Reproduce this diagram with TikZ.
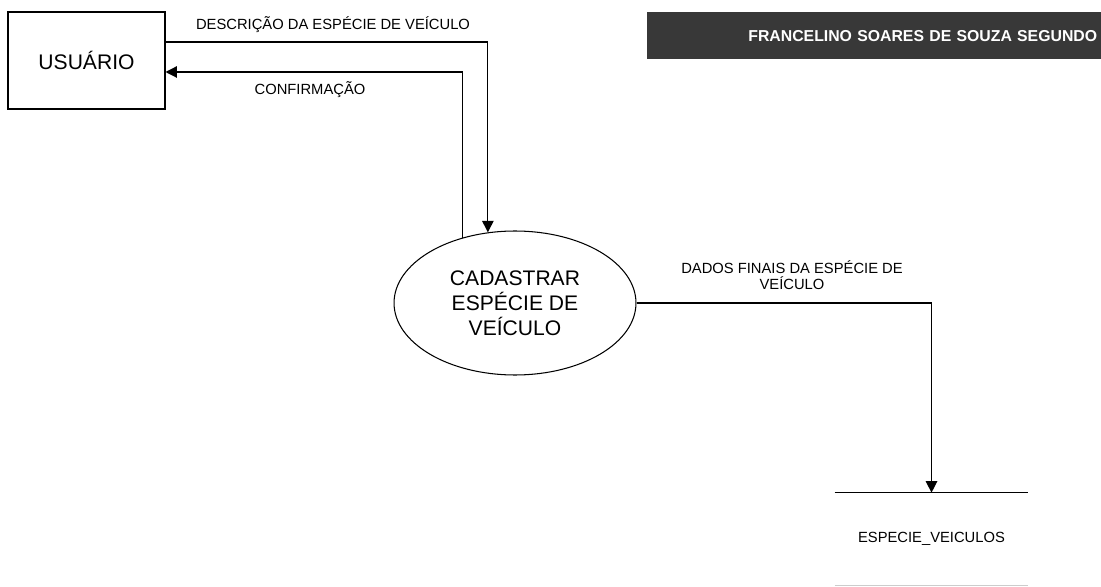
\documentclass[tikz,border=0pt]{standalone}
\usepackage{fontspec}
\setmainfont{Liberation Sans}
\usetikzlibrary{arrows.meta, shapes.geometric}

\tikzset{
	small/.style={font=\fontsize{8.4}{9}\selectfont, inner sep=1pt},
	entidade/.style={draw, line width=0.6pt, minimum width=3.14cm, minimum height=1.94cm, font=\fontsize{12}{14}\selectfont},
	processo/.style={draw, ellipse, line width=0.6pt, inner sep=0pt, minimum width=4.84cm, minimum height=2.88cm, align=center, font=\fontsize{12}{14.2}\selectfont},
	fluxo/.style={->, line width=0.7pt},
}

\begin{document}
\begin{tikzpicture}[x=0.02cm, y=-0.02cm, >={Triangle[length=6.5pt, width=6.5pt]}]
			\useasboundingbox (0,0) rectangle (1101,587);
			
			% -- Autor --
			\node[anchor=north east, fill=black!78, text=white, font=\bfseries\fontsize{9}{10}\selectfont,
				minimum height=0.94cm, inner xsep=0.07cm, text width=8.94cm, align=right] (autor) at (1101,12) {FRANCELINO SOARES DE SOUZA SEGUNDO};
			
			% -- Entidade e processo --
			\node[entidade] (usuario) at (86.5,60.5) {USUÁRIO};
			\node[processo] (cadastrar) at (515,303) {CADASTRAR\\ESPÉCIE DE\\VEÍCULO};
			
			% -- Depósito de dados --
			\node[small, minimum width=3.86cm, minimum height=1.84cm] (deposito) at (931.5,539) {ESPECIE\_VEICULOS};
			\draw[line width=0.6pt] (deposito.north west) -- (deposito.north east);
			\draw[line width=0.6pt, black!20] (deposito.south west) -- (deposito.south east);
			
			% -- Fluxos --
			\draw[fluxo] (usuario.east |- 0,42) -| (cadastrar.111);
			\draw[fluxo] (cadastrar.129) |- (usuario.east |- 0,72);
			\draw[fluxo] (cadastrar.east) -| (deposito.north);
			
			% -- Rótulos dos fluxos --
			\node[small] (descricao) at (333,25) {DESCRIÇÃO DA ESPÉCIE DE VEÍCULO};
			\node[small] (confirmacao) at (310,90) {CONFIRMAÇÃO};
			\node[small, align=center] (dados) at (792,275) {DADOS FINAIS DA ESPÉCIE DE\\VEÍCULO};
		\end{tikzpicture}
\end{document}
